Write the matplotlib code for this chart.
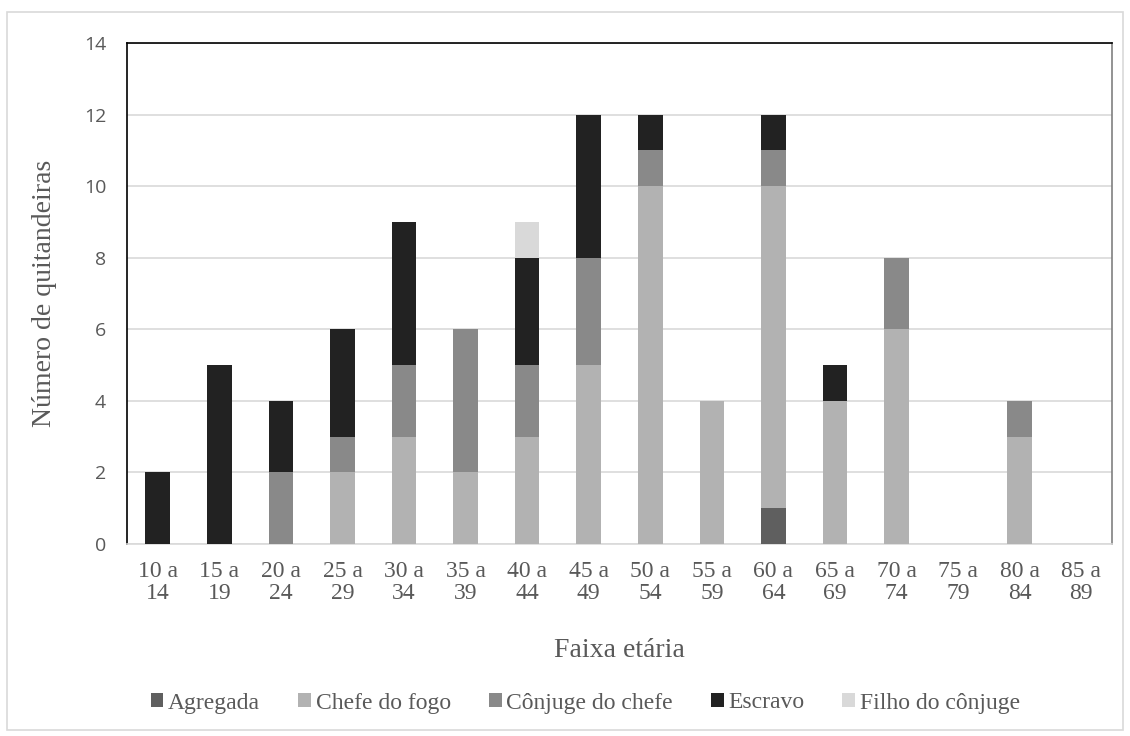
import numpy as np
import matplotlib.pyplot as plt
from matplotlib.patches import Rectangle

faixas = ["10 a\n14", "15 a\n19", "20 a\n24", "25 a\n29", "30 a\n34", "35 a\n39", "40 a\n44", "45 a\n49",
          "50 a\n54", "55 a\n59", "60 a\n64", "65 a\n69", "70 a\n74", "75 a\n79", "80 a\n84", "85 a\n89"]
agregada = [0, 0, 0, 0, 0, 0, 0, 0, 0, 0, 1, 0, 0, 0, 0, 0]
chefe = [0, 0, 0, 2, 3, 2, 3, 5, 10, 4, 9, 4, 6, 0, 3, 0]
conjuge = [0, 0, 2, 1, 2, 4, 2, 3, 1, 0, 1, 0, 2, 0, 1, 0]
escravo = [2, 5, 2, 3, 4, 0, 3, 4, 1, 0, 1, 1, 0, 0, 0, 0]
filho = [0, 0, 0, 0, 0, 0, 1, 0, 0, 0, 0, 0, 0, 0, 0, 0]

series = [("Agregada", agregada, "#5f5f5f"),
          ("Chefe do fogo", chefe, "#b2b2b2"),
          ("Cônjuge do chefe", conjuge, "#898989"),
          ("Escravo", escravo, "#222222"),
          ("Filho do cônjuge", filho, "#d9d9d9")]

serif = "Liberation Serif"
txt = "#595959"

fig = plt.figure(figsize=(11.3, 7.36), dpi=100)
fig.patches.append(Rectangle((7 / 1130, 6 / 736), 1116 / 1130, 718 / 736, transform=fig.transFigure,
                             fill=False, edgecolor="#d9d9d9", linewidth=1.2))
ax = fig.add_axes([127 / 1130, 1 - 544 / 736, (1112 - 127) / 1130, (544 - 43) / 736])

x = np.arange(len(faixas))
bottom = np.zeros(len(faixas))
for name, vals, col in series:
    vals = np.array(vals, dtype=float)
    ax.bar(x, vals, 0.4, bottom=bottom, color=col, label=name, zorder=3)
    bottom += vals

ax.set_xlim(-0.5, len(faixas) - 0.5)
ax.set_ylim(0, 14)
ax.set_yticks(range(0, 15, 2))
ax.yaxis.grid(True, color="#d9d9d9", linewidth=1.2, zorder=0)
ax.set_axisbelow(True)
ax.set_xticks(x)
ax.set_xticklabels(faixas, fontfamily=serif, fontsize=17, color=txt, linespacing=1.1)
ax.tick_params(axis="x", length=0, pad=12)
ax.tick_params(axis="y", length=0, pad=15, labelsize=14, labelcolor=txt)
for lab in ax.get_yticklabels():
    lab.set_fontfamily("Open Sans")

ax.spines["left"].set_color("#000000")
ax.spines["top"].set_color("#000000")
ax.spines["right"].set_color("#808080")
ax.spines["bottom"].set_color("#d9d9d9")
for s in ax.spines.values():
    s.set_linewidth(1.2)

ax.set_ylabel("Número de quitandeiras", fontfamily=serif, fontsize=20, color=txt, labelpad=19)
ax.set_xlabel("Faixa etária", fontfamily=serif, fontsize=20, color=txt, labelpad=24)

leg = fig.legend(loc="center", bbox_to_anchor=(0.518, 1 - 703 / 736), ncol=5, frameon=False,
                 prop={"family": serif, "size": 17}, handlelength=0.55, handleheight=0.55,
                 handletextpad=0.2, columnspacing=1.6)
for t in leg.get_texts():
    t.set_color(txt)

fig.savefig("out.png", dpi=100)
